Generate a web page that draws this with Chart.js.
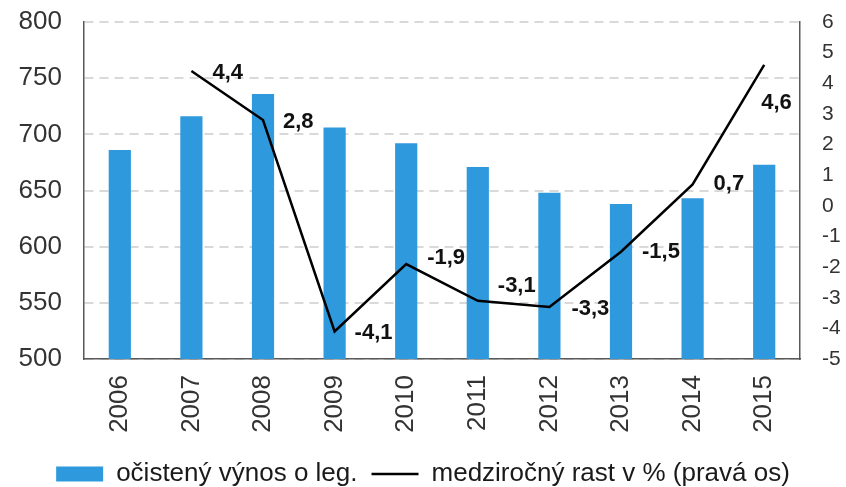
<!DOCTYPE html>
<html>
<head>
<meta charset="utf-8">
<script src="https://cdn.jsdelivr.net/npm/chart.js@4/dist/chart.umd.min.js"></script>
<style>
  html, body { margin: 0; padding: 0; background: #ffffff; }
  #wrap { width: 846px; height: 487px; position: relative; }
</style>
</head>
<body>
<div id="wrap"><canvas id="chart" width="846" height="487"></canvas></div>
<script>
// Roky, očistený výnos a medziročný rast
const years = ['2006', '2007', '2008', '2009', '2010', '2011', '2012', '2013', '2014', '2015'];
const yieldValues = [686, 716, 736, 706, 692, 671, 648, 638, 643, 673];
const growthValues = [null, 4.4, 2.8, -4.1, -1.9, -3.1, -3.3, -1.5, 0.7, 4.6];
const seriesNames = ['očistený výnos o leg.', 'medziročný rast v % (pravá os)'];

// Posun popisov od bodov čiary (v pixeloch)
const labelOffsets = [null, [21, 2], [20, 2], [20, 2], [21, -6], [20, -15], [22, 2], [21, 0], [21, 0], [-3, 38]];

const FONT = "'Liberation Sans', Arial, Helvetica, sans-serif";

const lineLabels = {
  id: 'lineLabels',
  afterDatasetsDraw(chart) {
    const meta = chart.getDatasetMeta(1);
    const ctx = chart.ctx;
    ctx.save();
    ctx.font = "bold 22px " + FONT;
    ctx.fillStyle = '#111111';
    ctx.textAlign = 'left';
    ctx.textBaseline = 'middle';
    meta.data.forEach((pt, i) => {
      const v = growthValues[i];
      if (v === null || v === undefined) return;
      const off = labelOffsets[i] || [20, 0];
      const txt = v.toFixed(1).replace('.', ',');
      ctx.fillText(txt, pt.x + off[0], pt.y + off[1]);
    });
    ctx.restore();
  }
};

const gridColor = '#d9d9d9';
const axisColor = '#595959';

// Pevná šírka osi bez dodatočného odsadenia zhora a zdola
function fixAxis(width) {
  return function (scale) {
    scale.width = width;
    scale.paddingTop = 0;
    scale.paddingBottom = 0;
  };
}

new Chart(document.getElementById('chart'), {
  type: 'bar',
  data: {
    labels: years,
    datasets: [
      {
        type: 'bar',
        label: seriesNames[0],
        data: yieldValues,
        backgroundColor: '#2e99dc',
        borderWidth: 0,
        categoryPercentage: 1.0,
        barPercentage: 0.31,
        pointStyle: 'rect',
        yAxisID: 'y',
        order: 1
      },
      {
        type: 'line',
        label: seriesNames[1],
        data: growthValues,
        borderColor: '#000000',
        backgroundColor: '#000000',
        borderWidth: 2.5,
        pointRadius: 0,
        pointHoverRadius: 0,
        pointStyle: 'line',
        tension: 0,
        spanGaps: false,
        yAxisID: 'y1',
        order: 0
      }
    ]
  },
  options: {
    responsive: false,
    animation: false,
    devicePixelRatio: 1,
    layout: { padding: { top: 22, left: 0, right: 0, bottom: -10 } },
    plugins: {
      tooltip: { enabled: false },
      legend: {
        position: 'bottom',
        labels: {
          usePointStyle: true,
          pointStyleWidth: 47,
          boxHeight: 15,
          padding: 14,
          color: '#1a1a1a',
          font: { family: FONT, size: 26 },
          sort: (a, b) => a.datasetIndex - b.datasetIndex
        }
      }
    },
    scales: {
      x: {
        grid: { display: false, drawTicks: false },
        border: { display: true, color: axisColor, width: 1.5 },
        ticks: {
          autoSkip: false,
          minRotation: 90,
          maxRotation: 90,
          padding: 16,
          color: '#333333',
          font: { family: FONT, size: 26 }
        },
        afterFit(scale) { scale.height = 88; }
      },
      y: {
        position: 'left',
        min: 500,
        max: 800,
        ticks: {
          stepSize: 50,
          padding: 22,
          color: '#333333',
          font: { family: FONT, size: 26 }
        },
        grid: { color: gridColor, lineWidth: 2, drawTicks: false },
        border: { display: true, color: axisColor, width: 1.5, dash: [9, 6] },
        afterFit: fixAxis(84)
      },
      y1: {
        position: 'right',
        min: -5,
        max: 6,
        ticks: {
          stepSize: 1,
          padding: 22,
          color: '#333333',
          font: { family: FONT, size: 21 }
        },
        grid: { display: false, drawTicks: false },
        border: { display: true, color: axisColor, width: 1.5 },
        afterFit: fixAxis(46)
      }
    }
  },
  plugins: [lineLabels]
});
</script>
</body>
</html>
